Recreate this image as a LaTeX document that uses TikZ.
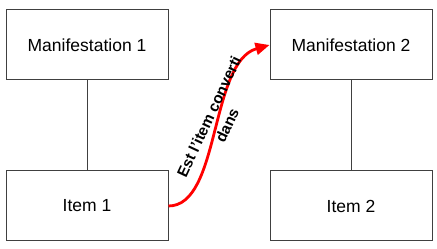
\documentclass[tikz,border=0pt]{standalone}
\usepackage{fontspec}
\setmainfont{Liberation Sans}
\usetikzlibrary{arrows.meta}
\begin{document}
\begin{tikzpicture}[x=1pt,y=1pt,
  box/.style={draw=black!75,line width=1pt,minimum width=162pt,minimum height=70pt,inner sep=0pt,font=\fontsize{17.5}{21}\selectfont},
  link/.style={draw=black!75,line width=1pt},
  conv/.style={draw=red,line width=2.8pt,-{Triangle[length=14pt,width=12pt]}}]
  \useasboundingbox (0,0) rectangle (437,249);
  \node[box] (man1) at (87,204) {Manifestation 1};
  \node[box] (item1) at (87,43) {Item 1};
  \node[box] (man2) at (351,204) {Manifestation 2};
  \node[box] (item2) at (351,43) {Item 2};
  \draw[link] (man1) -- (item1);
  \draw[link] (man2) -- (item2);
  \draw[conv] (item1.east) .. controls +(52,0) and +(-60,-17) .. (man2.west);
  \node[rotate=65,align=center,font=\bfseries\fontsize{15.3}{20}\selectfont] (lbl) at (218,128) {Est l'item converti\\dans};
\end{tikzpicture}
\end{document}
